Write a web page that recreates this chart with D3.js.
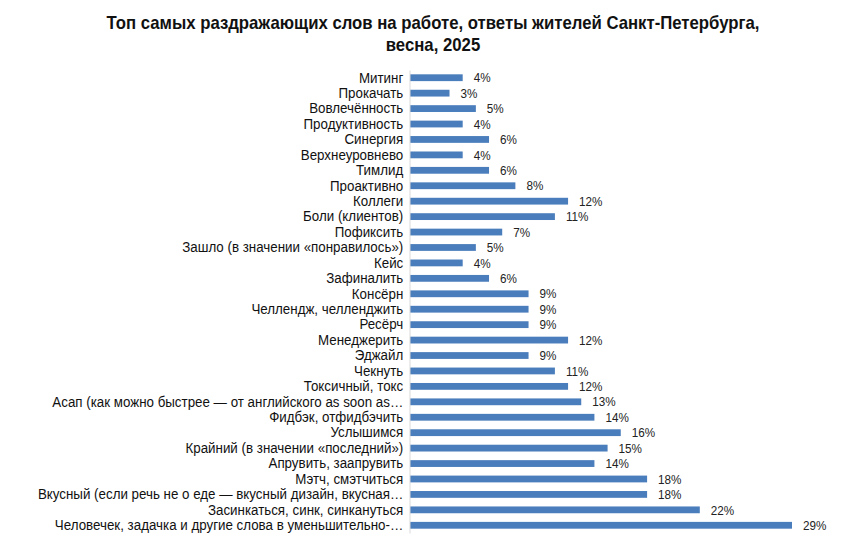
<!DOCTYPE html>
<html>
<head>
<meta charset="utf-8">
<script src="https://cdn.jsdelivr.net/npm/d3@7"></script>
<style>
  body { margin: 0; background: #fff; }
  svg text { font-family: "Liberation Sans Narrow", "Arial Narrow", "Liberation Sans", Arial, sans-serif; }
</style>
</head>
<body>
<div id="chart"></div>
<script>
// data
var words = [
  "Митинг", "Прокачать", "Вовлечённость", "Продуктивность", "Синергия",
  "Верхнеуровнево", "Тимлид", "Проактивно", "Коллеги", "Боли (клиентов)",
  "Пофиксить", "Зашло (в значении «понравилось»)", "Кейс", "Зафиналить", "Консёрн",
  "Челлендж, челленджить", "Ресёрч", "Менеджерить", "Эджайл", "Чекнуть",
  "Токсичный, токс", "Асап (как можно быстрее — от английского as soon as…",
  "Фидбэк, отфидбэчить", "Услышимся", "Крайний (в значении «последний»)",
  "Апрувить, заапрувить", "Мэтч, смэтчиться",
  "Вкусный (если речь не о еде — вкусный дизайн, вкусная…",
  "Засинкаться, синк, синкануться",
  "Человечек, задачка и другие слова в уменьшительно-…"
];
var shares = [4, 3, 5, 4, 6, 4, 6, 8, 12, 11, 7, 5, 4, 6, 9, 9, 9, 12, 9, 11, 12, 13, 14, 16, 15, 14, 18, 18, 22, 29];
var titleLines = ["Топ самых раздражающих слов на работе, ответы жителей Санкт-Петербурга,", "весна, 2025"];

var W = 866, H = 544;
var margin = {top: 70, left: 410, right: 74, bottom: 11};

var svg = d3.select("#chart").append("svg")
  .attr("width", W).attr("height", H);

// narrow look: the condensed face is not installed, squeeze horizontally
svg.append("g").attr("transform", "translate(433,0) scale(0.93,1)")
  .selectAll("text")
  .data(titleLines)
  .enter().append("text")
  .attr("x", 0)
  .attr("y", function(d, i){ return 29 + i * 22; })
  .attr("text-anchor", "middle")
  .style("font-size", "18px")
  .style("font-weight", "bold")
  .attr("fill", "#111")
  .text(function(d){ return d; });

var x = d3.scaleLinear().domain([0, 29]).range([margin.left, 792]);
var y = d3.scaleBand().domain(words)
  .range([margin.top, H - margin.bottom]).paddingInner(0.56).paddingOuter(0.28);

var g = svg.append("g");

g.selectAll("rect")
  .data(words)
  .enter().append("rect")
  .attr("x", x(0))
  .attr("y", function(d){ return y(d); })
  .attr("width", function(d, i){ return x(shares[i]) - x(0); })
  .attr("height", y.bandwidth())
  .attr("fill", "#4a7dbc");

var yAxis = d3.axisLeft(y).tickSize(0).tickPadding(7);
var ax = svg.append("g").attr("transform", "translate(" + (margin.left - 0.5) + ",0)").call(yAxis);
ax.select(".domain").attr("stroke", "#d9d9d9").attr("stroke-width", 1);
ax.selectAll("text")
  .style("font-size", "15px")
  .attr("fill", "#111")
  .attr("transform", "scale(0.89,1)");

g.selectAll(".val")
  .data(words)
  .enter().append("text")
  .attr("class", "val")
  .attr("transform", function(d, i){
    return "translate(" + (x(shares[i]) + 11) + "," + (y(d) + y.bandwidth() / 2) + ") scale(0.9,1)";
  })
  .attr("dy", "0.36em")
  .style("font-size", "13px")
  .attr("fill", "#222")
  .text(function(d, i){ return shares[i] + "%"; });
</script>
</body>
</html>
